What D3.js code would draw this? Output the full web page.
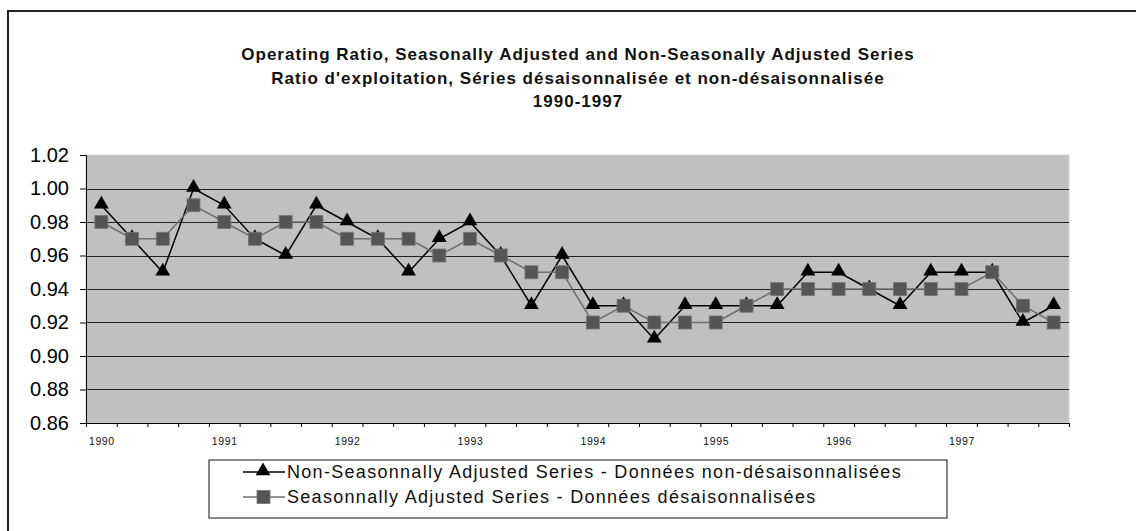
<!DOCTYPE html>
<html>
<head>
<meta charset="utf-8">
<script src="https://cdn.jsdelivr.net/npm/d3@7"></script>
<style>
  body { margin: 0; background: #fff; }
  svg { display: block; }
  text { font-family: "Liberation Sans", Arial, sans-serif; }
</style>
</head>
<body>
<div id="chart"></div>
<script>
var svgWidth = 1136;
var svgHeight = 531;

// quarterly data, 1990 Q1 .. 1997 Q4
var years = ["1990", "1991", "1992", "1993", "1994", "1995", "1996", "1997"];
var nonAdjusted = [0.99, 0.97, 0.95, 1.00, 0.99, 0.97, 0.96, 0.99,
                   0.98, 0.97, 0.95, 0.97, 0.98, 0.96, 0.93, 0.96,
                   0.93, 0.93, 0.91, 0.93, 0.93, 0.93, 0.93, 0.95,
                   0.95, 0.94, 0.93, 0.95, 0.95, 0.95, 0.92, 0.93];
var adjusted = [0.98, 0.97, 0.97, 0.99, 0.98, 0.97, 0.98, 0.98,
                0.97, 0.97, 0.97, 0.96, 0.97, 0.96, 0.95, 0.95,
                0.92, 0.93, 0.92, 0.92, 0.92, 0.93, 0.94, 0.94,
                0.94, 0.94, 0.94, 0.94, 0.94, 0.95, 0.93, 0.92];
var yTicks = [0.86, 0.88, 0.90, 0.92, 0.94, 0.96, 0.98, 1.00, 1.02];
var titleLines = ["Operating Ratio, Seasonally Adjusted and Non-Seasonally Adjusted Series",
                  "Ratio d'exploitation, Séries désaisonnalisée et non-désaisonnalisée",
                  "1990-1997"];
var legendLabels = ["Non-Seasonnally Adjusted Series - Données non-désaisonnalisées",
                    "Seasonnally Adjusted Series - Données désaisonnalisées"];

var plot = {left: 86, top: 155, right: 1069, bottom: 423};
var width = plot.right - plot.left;
var height = plot.bottom - plot.top;

var svg = d3.select("#chart")
  .append("svg")
  .attr("width", svgWidth)
  .attr("height", svgHeight);

// outer chart frame (only top/left edges are inside the picture)
svg.append("rect")
  .attr("x", 8).attr("y", 11)
  .attr("width", 1200).attr("height", 600)
  .attr("fill", "none")
  .attr("stroke", "#222")
  .attr("stroke-width", 2);

// title
svg.append("g").selectAll("text")
  .data(titleLines)
  .enter()
  .append("text")
  .attr("x", 578)
  .attr("y", (d, i) => 60 + i * 23.5)
  .attr("text-anchor", "middle")
  .attr("font-size", "17px")
  .attr("font-weight", "bold")
  .attr("letter-spacing", "1px")
  .attr("fill", "#111")
  .text(d => d);

var chartGroup = svg.append("g")
  .attr("transform", `translate(${plot.left}, ${plot.top})`);

var xScale = d3.scaleLinear().domain([0, nonAdjusted.length]).range([0, width]);
var yScale = d3.scaleLinear().domain([0.86, 1.02]).range([height, 0]);

chartGroup.append("rect")
  .attr("width", width).attr("height", height)
  .attr("fill", "#c0c0c0")
  .attr("stroke", "#d4d4d4");

// gridlines
chartGroup.append("g").selectAll("line")
  .data(yTicks.slice(1, -1))
  .enter()
  .append("line")
  .attr("x1", 0).attr("x2", width)
  .attr("y1", d => Math.round(yScale(d)) + 0.5)
  .attr("y2", d => Math.round(yScale(d)) + 0.5)
  .attr("stroke", "#222")
  .attr("stroke-width", 1);

// y axis
var yAxis = d3.axisLeft(yScale).tickValues(yTicks).tickFormat(d3.format(".2f")).tickSize(6).tickPadding(11);
var yG = chartGroup.append("g").call(yAxis);
yG.select(".domain").attr("stroke", "#000");
yG.selectAll("text")
  .attr("font-family", "'Liberation Sans', Arial, sans-serif")
  .attr("font-size", "20px")
  .attr("fill", "#000");

// x axis: ticks on quarter boundaries, year labels under Q1
var xAxis = d3.axisBottom(xScale).tickValues(d3.range(nonAdjusted.length + 1)).tickFormat("").tickSize(4).tickSizeOuter(0);
var xG = chartGroup.append("g").attr("transform", `translate(0,${height})`).call(xAxis);
xG.select(".domain").attr("stroke", "#000");

var yearAxis = d3.axisBottom(xScale)
  .tickValues(years.map((y, i) => i * 4 + 0.5))
  .tickFormat((d, i) => years[i])
  .tickSize(0).tickPadding(15);
var yearG = chartGroup.append("g").attr("transform", `translate(0,${height})`).call(yearAxis);
yearG.select(".domain").remove();
yearG.selectAll("text")
  .attr("font-family", "'Liberation Sans', Arial, sans-serif")
  .attr("font-size", "10.5px")
  .attr("letter-spacing", "0.6px")
  .attr("fill", "#111");

var line = d3.line()
  .x((d, i) => xScale(i + 0.5))
  .y(d => yScale(d));

var triangle = d3.symbol().type(d3.symbolTriangle).size(95);

// non-seasonally adjusted series
chartGroup.append("path")
  .datum(nonAdjusted)
  .attr("d", line)
  .attr("fill", "none")
  .attr("stroke", "#000")
  .attr("stroke-width", 1.5);

chartGroup.append("g").selectAll("path")
  .data(nonAdjusted)
  .enter()
  .append("path")
  .attr("d", triangle)
  .attr("transform", (d, i) => `translate(${xScale(i + 0.5)},${yScale(d) - 1})`)
  .attr("fill", "#000");

// seasonally adjusted series
chartGroup.append("path")
  .datum(adjusted)
  .attr("d", line)
  .attr("fill", "none")
  .attr("stroke", "#6e6e6e")
  .attr("stroke-width", 1.5);

chartGroup.append("g").selectAll("rect")
  .data(adjusted)
  .enter()
  .append("rect")
  .attr("x", (d, i) => xScale(i + 0.5) - 6.5)
  .attr("y", d => yScale(d) - 6.5)
  .attr("width", 13).attr("height", 13)
  .attr("fill", "#555")
  .attr("stroke", "#777")
  .attr("stroke-width", 0.8);

// legend
var legend = svg.append("g").attr("transform", "translate(209, 460)");
legend.append("rect")
  .attr("width", 738).attr("height", 58)
  .attr("fill", "#fff")
  .attr("stroke", "#111")
  .attr("stroke-width", 1);

var legendRows = legend.selectAll("g.row")
  .data(legendLabels)
  .enter()
  .append("g")
  .attr("class", "row")
  .attr("transform", (d, i) => `translate(0, ${12 + i * 25})`);

legendRows.append("line")
  .attr("x1", 34).attr("x2", 76)
  .attr("stroke", (d, i) => i === 0 ? "#000" : "#6e6e6e")
  .attr("stroke-width", 1.5);

legendRows.filter((d, i) => i === 0).append("path")
  .attr("d", triangle)
  .attr("transform", "translate(54,-1)")
  .attr("fill", "#000");

legendRows.filter((d, i) => i === 1).append("rect")
  .attr("x", 48).attr("y", -6.5)
  .attr("width", 13).attr("height", 13)
  .attr("fill", "#555")
  .attr("stroke", "#777")
  .attr("stroke-width", 0.8);

legendRows.append("text")
  .attr("x", 78)
  .attr("dy", "0.35em")
  .attr("font-size", "18px")
  .attr("letter-spacing", "1.3px")
  .attr("fill", "#111")
  .text(d => d);
</script>
</body>
</html>
